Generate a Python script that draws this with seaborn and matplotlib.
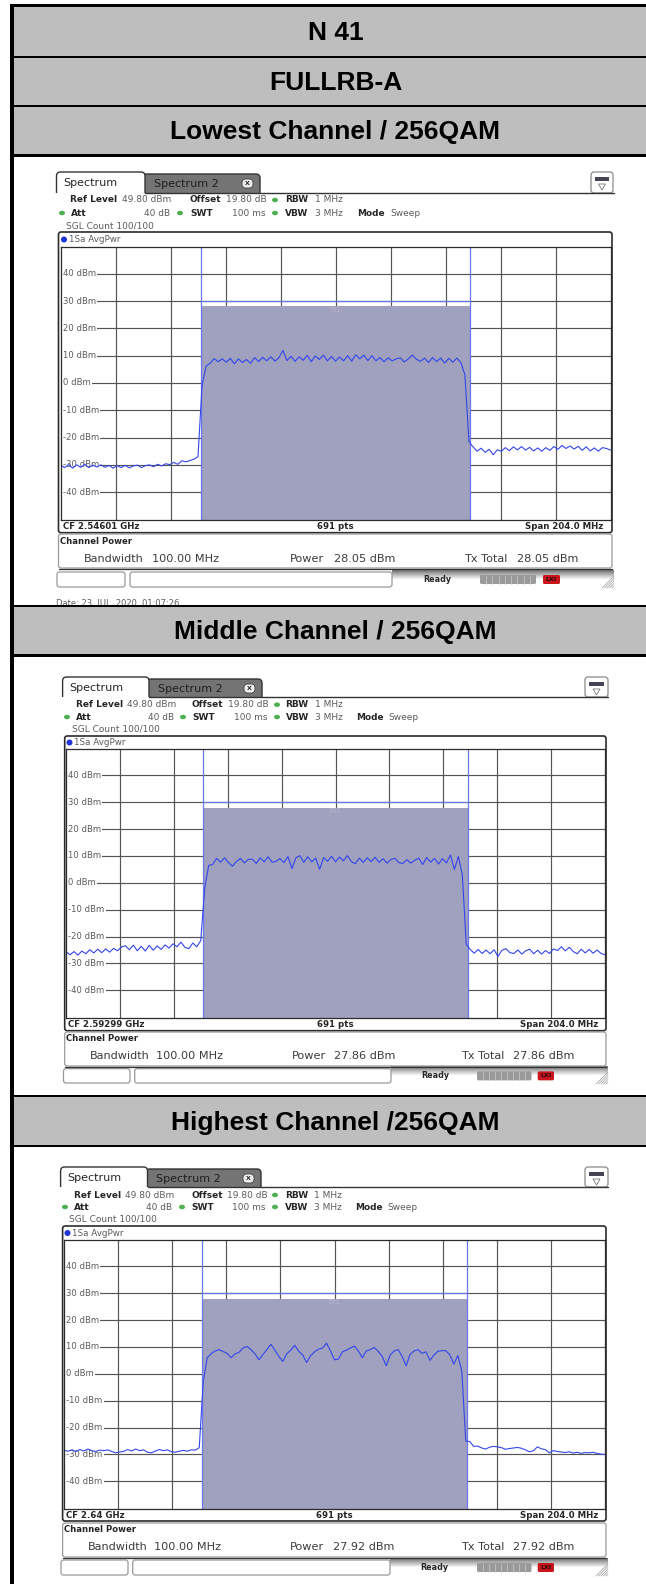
import numpy as np
import matplotlib
matplotlib.use('Agg')
import matplotlib.pyplot as plt
import seaborn as sns
from matplotlib.patches import FancyBboxPatch, Rectangle, Ellipse, Polygon

W, H = 646, 1584

# levels in dBm, one sweep point every 1.5 MHz
lowest_levels = [
    -30.0, -31.0, -29.9, -31.2, -30.0, -30.9, -29.8, -31.0, -30.1, -30.8,
    -30.0, -30.9, -30.2, -31.2, -30.3, -31.0, -30.2, -31.1, -30.4, -30.1,
    -31.0, -30.3, -30.0, -30.7, -29.8, -30.4, -29.6, -29.9, -29.1, -29.8,
    -28.5, -28.9, -28.4, -27.9,
    -27.0, -1.0, 6.2,
    7.2, 8.9, 7.8, 8.8, 7.6, 9.0, 7.0, 8.8, 7.5, 8.6,
    7.2, 9.3, 7.8, 9.4, 8.1, 9.6, 8.0, 9.2, 11.9, 8.2,
    9.8, 7.9, 9.6, 8.3, 10.1, 7.8, 9.9, 8.6, 10.2, 8.1,
    9.7, 8.0, 9.5, 8.1, 10.0, 8.0, 10.3, 8.8, 10.2, 8.2,
    10.0, 8.1, 9.3, 7.8, 9.2, 8.1, 8.8, 9.2, 7.7, 8.8,
    10.2, 8.7, 7.9, 9.1, 7.5, 9.3, 7.8, 9.1, 7.3, 9.0,
    7.6, 9.1, 7.5,
    3.0, -21.5,
    -23.4, -25.0, -23.9, -25.4, -24.3, -26.3, -24.5, -25.0, -23.7, -24.8,
    -23.4, -24.5, -23.3, -24.6, -23.6, -24.9, -23.8, -25.0, -23.7, -24.7,
    -23.3, -24.3, -22.9, -24.0, -23.1, -24.2, -23.2, -24.7, -23.4, -24.9,
    -23.8, -25.0, -23.7, -24.0, -24.6,
]
middle_levels = [
    -25.6, -26.8, -25.6, -26.9, -25.4, -26.4, -24.9, -26.1, -24.7, -26.0,
    -24.6, -25.8, -24.4, -25.3, -23.9, -23.4, -24.9, -23.2, -25.3, -23.6,
    -25.4, -23.3, -25.1, -23.5, -24.8, -23.1, -24.3, -22.7, -23.8, -22.1,
    -24.0, -24.5, -22.4, -23.8,
    -21.5, -2.0, 6.5,
    6.8, 9.1, 7.7, 9.3, 7.5, 6.2, 7.9, 9.1, 7.4, 8.7,
    8.8, 7.2, 9.3, 7.8, 9.7, 7.6, 8.0, 9.0, 7.5, 9.8,
    5.3, 9.3, 10.1, 7.6, 9.7, 7.8, 9.2, 5.0, 9.4, 8.0,
    9.9, 7.8, 9.6, 8.2, 10.1, 7.9, 7.1, 9.2, 7.6, 9.3,
    7.9, 9.5, 7.6, 9.0, 7.3, 8.7, 9.1, 7.5, 7.2, 8.6,
    7.3, 8.4, 9.2, 6.8, 9.4, 7.7, 9.1, 7.0, 9.0, 7.4,
    10.4, 5.0, 9.8,
    3.0, -23.0,
    -24.8, -26.2, -24.8, -26.3, -25.0, -26.4, -24.9, -27.4, -25.1, -24.5,
    -26.0, -26.3, -25.0, -26.5, -25.3, -24.7, -26.4, -25.1, -26.5, -25.2,
    -26.3, -24.6, -25.2, -23.8, -25.3, -24.0, -25.6, -26.4, -24.7, -26.1,
    -24.8, -26.2, -25.0, -26.3, -26.8,
]
highest_levels = [
    -28.5, -28.8, -28.3, -28.9, -28.2, -28.7, -28.0, -28.6, -28.9, -28.4,
    -28.6, -28.3, -28.9, -29.4, -29.1, -28.9, -28.2, -28.7, -28.0, -28.6,
    -28.3, -29.2, -29.4, -28.7, -28.2, -28.6, -28.3, -29.0, -29.2, -28.8,
    -28.5, -28.8, -28.3, -28.4,
    -27.5, -3.0, 6.0,
    7.5, 8.5, 9.0, 8.3, 7.6, 6.0, 7.4, 8.0, 9.6, 10.2,
    9.0, 7.5, 5.2, 7.2, 9.0, 11.0, 8.8, 6.5, 4.6, 7.5,
    8.8, 10.6, 8.4, 7.0, 4.2, 6.8, 8.2, 9.2, 9.6, 11.4,
    8.5, 5.2, 5.5, 8.2, 8.8, 9.6, 10.3, 8.5, 6.0, 8.5,
    9.0, 9.8, 8.3, 6.5, 3.0, 7.0, 8.5, 9.0, 6.5, 3.0,
    7.2, 8.5, 9.0, 7.6, 8.2, 5.0, 7.0, 8.4, 8.6, 8.6,
    7.0, 3.6, 6.8,
    1.0, -25.0,
    -25.2, -27.0, -26.9, -27.6, -28.0, -27.3, -27.0, -27.2, -27.5, -28.1,
    -27.8, -27.6, -27.4, -27.7, -28.3, -29.0, -28.6, -27.2, -27.9, -28.2,
    -29.4, -28.6, -28.9, -29.1, -29.3, -29.0, -29.5, -29.2, -29.6, -29.3,
    -29.4, -29.2, -29.6, -29.9, -30.0,
]

channel_power = [28.05, 27.86, 27.92]
cf_labels = ['CF 2.54601 GHz', 'CF 2.59299 GHz', 'CF 2.64 GHz']
power_labels = ['28.05 dBm', '27.86 dBm', '27.92 dBm']
db_ticks = [40, 30, 20, 10, 0, -10, -20, -30, -40]
freq_ticks = [-81.6, -61.2, -40.8, -20.4, 0, 20.4, 40.8, 61.2, 81.6]

# grey title rows: (text, top, bottom)
header_rows = [
    ('N 41', 7, 56),
    ('FULLRB-A', 58, 105),
    ('Lowest Channel / 256QAM', 107, 154),
    ('Middle Channel / 256QAM', 607, 654),
    ('Highest Channel /256QAM', 1097, 1145),
]
black_lines = [(4, 7), (56, 58), (105, 107), (154, 157), (605, 607), (654, 657), (1095, 1097), (1145, 1147)]

# pixel layout of each analyser screenshot
screens = [
    dict(tab=56.5, tab2=145, tab2r=260, tabtop=172, base=193, edge=614, icon=591, iconr=613,
         rows=(200, 213, 226), ref=70, refv=122, off=190, offv=226, dot3=275, rbw=285, rbwv=315,
         dot1=62, att=71, attr=170, dot2=180, swtr=266, mode=357, sweep=390, sgl=66,
         box=58.5, boxr=612, boxtop=232, l=60.5, r=610.5, t=247, b=520,
         cf=526.7, boxb=532.7, cptop=534, cpb=568, cpt=541, cpv=559,
         bw=84, bwv=152, pw=290, pwv=334, tx=464, txv=517,
         st=572, stb=587, s1=57, s1r=125, s2=130, s2r=392, ready=423, bar=480, barr=536, red=543, redr=560),
    dict(tab=62.6, tab2=149, tab2r=262, tabtop=677, base=697, edge=608, icon=585, iconr=608,
         rows=(704.7, 717, 729), ref=76, refv=127, off=192, offv=228, dot3=277, rbw=285.5, rbwv=315,
         dot1=67, att=76, attr=174, dot2=183, swtr=267, mode=356, sweep=388, sgl=72,
         box=64.7, boxr=606, boxtop=736, l=66, r=605, t=749, b=1017.7,
         cf=1024.3, boxb=1030.7, cptop=1032, cpb=1066, cpt=1038.7, cpv=1056.3,
         bw=89.4, bwv=156, pw=291.7, pwv=334, tx=461, txv=513,
         st=1068.7, stb=1083, s1=63.5, s1r=130, s2=134.7, s2r=391, ready=421, bar=477, barr=531.5, red=537.7, redr=554),
    dict(tab=60.6, tab2=147.5, tab2r=261, tabtop=1167, base=1187, edge=608, icon=585, iconr=608,
         rows=(1195, 1207, 1219), ref=74, refv=125, off=191, offv=226.6, dot3=275, rbw=284.7, rbwv=314,
         dot1=65, att=74, attr=172, dot2=182, swtr=266, mode=355, sweep=387, sgl=69,
         box=62.6, boxr=606, boxtop=1226, l=64, r=605, t=1240, b=1508.7,
         cf=1515, boxb=1521, cptop=1523, cpb=1557, cpt=1529, cpv=1547,
         bw=88, bwv=154.5, pw=290, pwv=333, tx=460.6, txv=512.6,
         st=1560, stb=1575, s1=61, s1r=128, s2=132.7, s2r=390, ready=420, bar=477, barr=531.5, red=537.7, redr=554),
]

sns.set_theme(style='white')
plt.rcParams['font.family'] = ['DejaVu Sans']

fig = plt.figure(figsize=(W / 100, H / 100), dpi=100, facecolor='white')
chrome = fig.add_axes([0, 0, 1, 1], zorder=0)
chrome.set_xlim(0, W)
chrome.set_ylim(H, 0)
chrome.axis('off')

TEXT_DARK = '#262626'
TEXT_GREY = '#5c5c5c'
GRID = '#555555'
TRACE = '#3346ea'
EDGE_BLUE = '#6a78ee'
FILL = '#a0a0bf'


def rrect(x0, y0, x1, y1, r=2, fc='white', ec='#333333', lw=1.0, zorder=1):
    p = FancyBboxPatch((x0, y0), x1 - x0, y1 - y0, boxstyle=f'round,pad=0,rounding_size={r}',
                       fc=fc, ec=ec, lw=lw, zorder=zorder)
    chrome.add_patch(p)
    return p


def label(x, y, s, size=6.5, bold=False, color=None, ha='left', zorder=3):
    chrome.text(x, y, s, fontsize=size, fontweight='bold' if bold else 'normal',
                color=color or (TEXT_DARK if bold else TEXT_GREY), ha=ha, va='center', zorder=zorder)


def dot(x, y, color='#4caf50', w=6, h=4.5):
    chrome.add_patch(Ellipse((x, y), w, h, fc=color, ec='none', zorder=3))


def draw_screen(s, levels, power, cf, power_txt):
    # tabs
    clip = Rectangle((0, s['tabtop'] - 3), W, s['base'] - s['tabtop'] + 3, transform=chrome.transData)
    t2 = rrect(s['tab2'] - 2, s['tabtop'] + 2, s['tab2r'], s['base'] + 6, r=4, fc='#747474', ec='#333333', lw=1.0)
    t2.set_clip_path(clip)
    t1 = rrect(s['tab'], s['tabtop'], s['tab2'], s['base'] + 6, r=4, fc='white', ec='#333333', lw=1.0, zorder=1.5)
    t1.set_clip_path(clip)
    chrome.plot([s['tab2'], s['edge']], [s['base'], s['base']], color='#333333', lw=1.0, zorder=1.2)
    label(s['tab'] + 7, s['tabtop'] + 11, 'Spectrum', size=8, color=TEXT_DARK)
    label(s['tab2'] + 9, s['tabtop'] + 12, 'Spectrum 2', size=8, color='#1f1f1f')
    rrect(s['tab2r'] - 18, s['tabtop'] + 7, s['tab2r'] - 7, s['tabtop'] + 16, r=4, fc='#eeeeee', ec='#444444', lw=0.6, zorder=2)
    label(s['tab2r'] - 12.5, s['tabtop'] + 11.5, 'X', size=4.5, bold=True, ha='center')

    # menu icon, top right
    rrect(s['icon'], s['tabtop'], s['iconr'], s['base'], r=3, fc='white', ec='#8a8a8a', lw=0.9)
    chrome.add_patch(Rectangle((s['icon'] + 4, s['tabtop'] + 5), s['iconr'] - s['icon'] - 8, 4, fc='#444455', ec='none', zorder=2))
    mid = (s['icon'] + s['iconr']) / 2
    chrome.add_patch(Polygon([(mid - 3.5, s['tabtop'] + 12), (mid + 3.5, s['tabtop'] + 12), (mid, s['tabtop'] + 18)],
                             fc='white', ec='#777777', lw=0.6, zorder=2))

    # settings rows
    y1, y2, y3 = s['rows']
    label(s['ref'], y1, 'Ref Level', bold=True)
    label(s['refv'], y1, '49.80 dBm')
    label(s['off'], y1, 'Offset', bold=True)
    label(s['offv'], y1, '19.80 dB')
    dot(s['dot3'], y1)
    label(s['rbw'], y1, 'RBW', bold=True)
    label(s['rbwv'], y1, '1 MHz')
    dot(s['dot1'], y2)
    label(s['att'], y2, 'Att', bold=True)
    label(s['attr'], y2, '40 dB', ha='right')
    dot(s['dot2'], y2)
    label(s['off'], y2, 'SWT', bold=True)
    label(s['swtr'], y2, '100 ms', ha='right')
    dot(s['dot3'], y2)
    label(s['rbw'], y2, 'VBW', bold=True)
    label(s['rbwv'], y2, '3 MHz')
    label(s['mode'], y2, 'Mode', bold=True)
    label(s['sweep'], y2, 'Sweep')
    label(s['sgl'], y3, 'SGL Count 100/100')

    # frame around the trace window
    rrect(s['box'], s['boxtop'], s['boxr'], s['boxb'], r=2.5, fc='white', ec='#2b2b2b', lw=1.2)
    dot(s['l'] + 3.5, (s['boxtop'] + s['t']) / 2, color='#1f35d8', w=6, h=6)
    label(s['l'] + 8.5, (s['boxtop'] + s['t']) / 2, '1Sa AvgPwr', size=6.3)
    label(s['l'] + 2.5, s['cf'], cf, size=6.2, bold=True)
    label((s['l'] + s['r']) / 2, s['cf'], '691 pts', size=6.2, bold=True, ha='center')
    label(s['r'] - 7, s['cf'], 'Span 204.0 MHz', size=6.2, bold=True, ha='right')

    # trace window
    ax = fig.add_axes([s['l'] / W, 1 - s['b'] / H, (s['r'] - s['l']) / W, (s['b'] - s['t']) / H], zorder=1)
    ax.set_facecolor('white')
    ax.set_axisbelow(True)
    freq = np.linspace(-102, 102, len(levels))
    ax.fill_between([-50, 50], -50.2, power, color=FILL, lw=0, zorder=2)
    ax.axvline(-50, color=EDGE_BLUE, lw=0.9, zorder=3)
    ax.axvline(50, color=EDGE_BLUE, lw=0.9, zorder=3)
    ax.plot([-50, 50], [30, 30], color=EDGE_BLUE, lw=0.9, zorder=3)
    sns.lineplot(x=freq, y=levels, ax=ax, color=TRACE, lw=0.8, errorbar=None, zorder=5)
    ax.set_xlim(-102, 102)
    ax.set_ylim(-50.2, 49.8)
    ax.set_xticks(freq_ticks)
    ax.set_yticks(db_ticks)
    ax.grid(True, color=GRID, lw=0.85)
    ax.tick_params(length=0, labelbottom=False, labelleft=False)
    ax.set_xlabel('')
    ax.set_ylabel('')
    for side in ax.spines.values():
        side.set_color('#2b2b2b')
        side.set_linewidth(0.9)
        side.set_zorder(6)
    ytrans = ax.get_yaxis_transform()
    gap = 3.5 / (s['r'] - s['l'])
    for d in db_ticks:
        # the grid line only starts after the level label
        ax.plot([0, gap], [d, d], transform=ytrans, color='white', lw=1.6, solid_capstyle='butt', zorder=3.5)
        ax.text(2.5 / (s['r'] - s['l']), d, f'{d} dBm', transform=ytrans, fontsize=6.1, color=TEXT_GREY,
                va='center', ha='left', zorder=4,
                bbox=dict(fc='white', ec='none', pad=0.6))
    ax.text(0, power - 1.3, 'TX1', fontsize=4.8, color='#b9b9cd', ha='center', va='center', zorder=4)

    # channel power table
    rrect(s['box'], s['cptop'], s['boxr'], s['cpb'], r=2.5, fc='white', ec='#9a9a9a', lw=0.9)
    chrome.plot([s['box'], s['boxr']], [s['cpb'] + 0.5, s['cpb'] + 0.5], color='#333333', lw=0.9, zorder=2)
    label(s['box'] + 1, s['cpt'], 'Channel Power', size=6.1, bold=True)
    label(s['bw'], s['cpv'], 'Bandwidth', size=8.1, color='#3c3c3c')
    label(s['bwv'], s['cpv'], '100.00 MHz', size=8.1, color='#3c3c3c')
    label(s['pw'], s['cpv'], 'Power', size=8.1, color='#3c3c3c')
    label(s['pwv'], s['cpv'], power_txt, size=8.1, color='#3c3c3c')
    label(s['tx'], s['cpv'], 'Tx Total', size=8.1, color='#3c3c3c')
    label(s['txv'], s['cpv'], power_txt, size=8.1, color='#3c3c3c')

    # status strip
    chrome.imshow(np.clip(np.linspace(0.45, 1.5, 32), 0, 1)[:, None], extent=(s['s2r'], s['edge'], s['stb'] + 1, s['st'] - 2),
                  aspect='auto', cmap='gray', vmin=0, vmax=1, zorder=0.5)
    chrome.set_xlim(0, W)
    chrome.set_ylim(H, 0)
    rrect(s['s1'], s['st'], s['s1r'], s['stb'], r=2.5, fc='white', ec='#999999', lw=0.9)
    rrect(s['s2'], s['st'], s['s2r'], s['stb'], r=2.5, fc='white', ec='#999999', lw=0.9)
    ym = (s['st'] + s['stb']) / 2
    label(s['ready'], ym, 'Ready', size=5.8, bold=True)
    rrect(s['bar'], ym - 4.5, s['barr'], ym + 4.5, r=1.5, fc='#9a9a9a', ec='none', lw=0)
    for k in range(1, 9):
        xk = s['bar'] + k * (s['barr'] - s['bar']) / 9
        chrome.plot([xk, xk], [ym - 4, ym + 4], color='#c4c4c4', lw=0.6, zorder=2)
    rrect(s['red'], ym - 4.5, s['redr'], ym + 4.5, r=1.5, fc='#c8141c', ec='none', lw=0)
    label((s['red'] + s['redr']) / 2, ym, 'LXI', size=4.5, bold=True, color='#2a0a0a', ha='center')
    for k in range(5):
        chrome.plot([s['edge'] - 2 - k * 2.5, s['edge']], [s['stb'] + 1, s['stb'] - 1 - k * 2.5], color='#9a9a9a', lw=0.5, zorder=2)


for scr, lev, pw, cf_txt, pw_txt in zip(screens, [lowest_levels, middle_levels, highest_levels],
                                        channel_power, cf_labels, power_labels):
    draw_screen(scr, lev, pw, cf_txt, pw_txt)

# date line that runs under the next title row
label(56, 604, 'Date: 23. JUL. 2020  01:07:26', size=6, zorder=1)

# table grid
for text, top, bottom in header_rows:
    chrome.add_patch(Rectangle((14, top), W - 14, bottom - top, fc='#bebebe', ec='none', zorder=4))
    chrome.text(335.5, (top + bottom) / 2 + 2, text, fontsize=19, fontweight='bold', color='black',
                family=['Liberation Sans'], ha='center', va='center', zorder=5)
for top, bottom in black_lines:
    chrome.add_patch(Rectangle((10, top), W - 10, bottom - top, fc='black', ec='none', zorder=4))
chrome.add_patch(Rectangle((10, 4), 4, H - 4, fc='black', ec='none', zorder=4))

fig.savefig('out.png', dpi=100)
